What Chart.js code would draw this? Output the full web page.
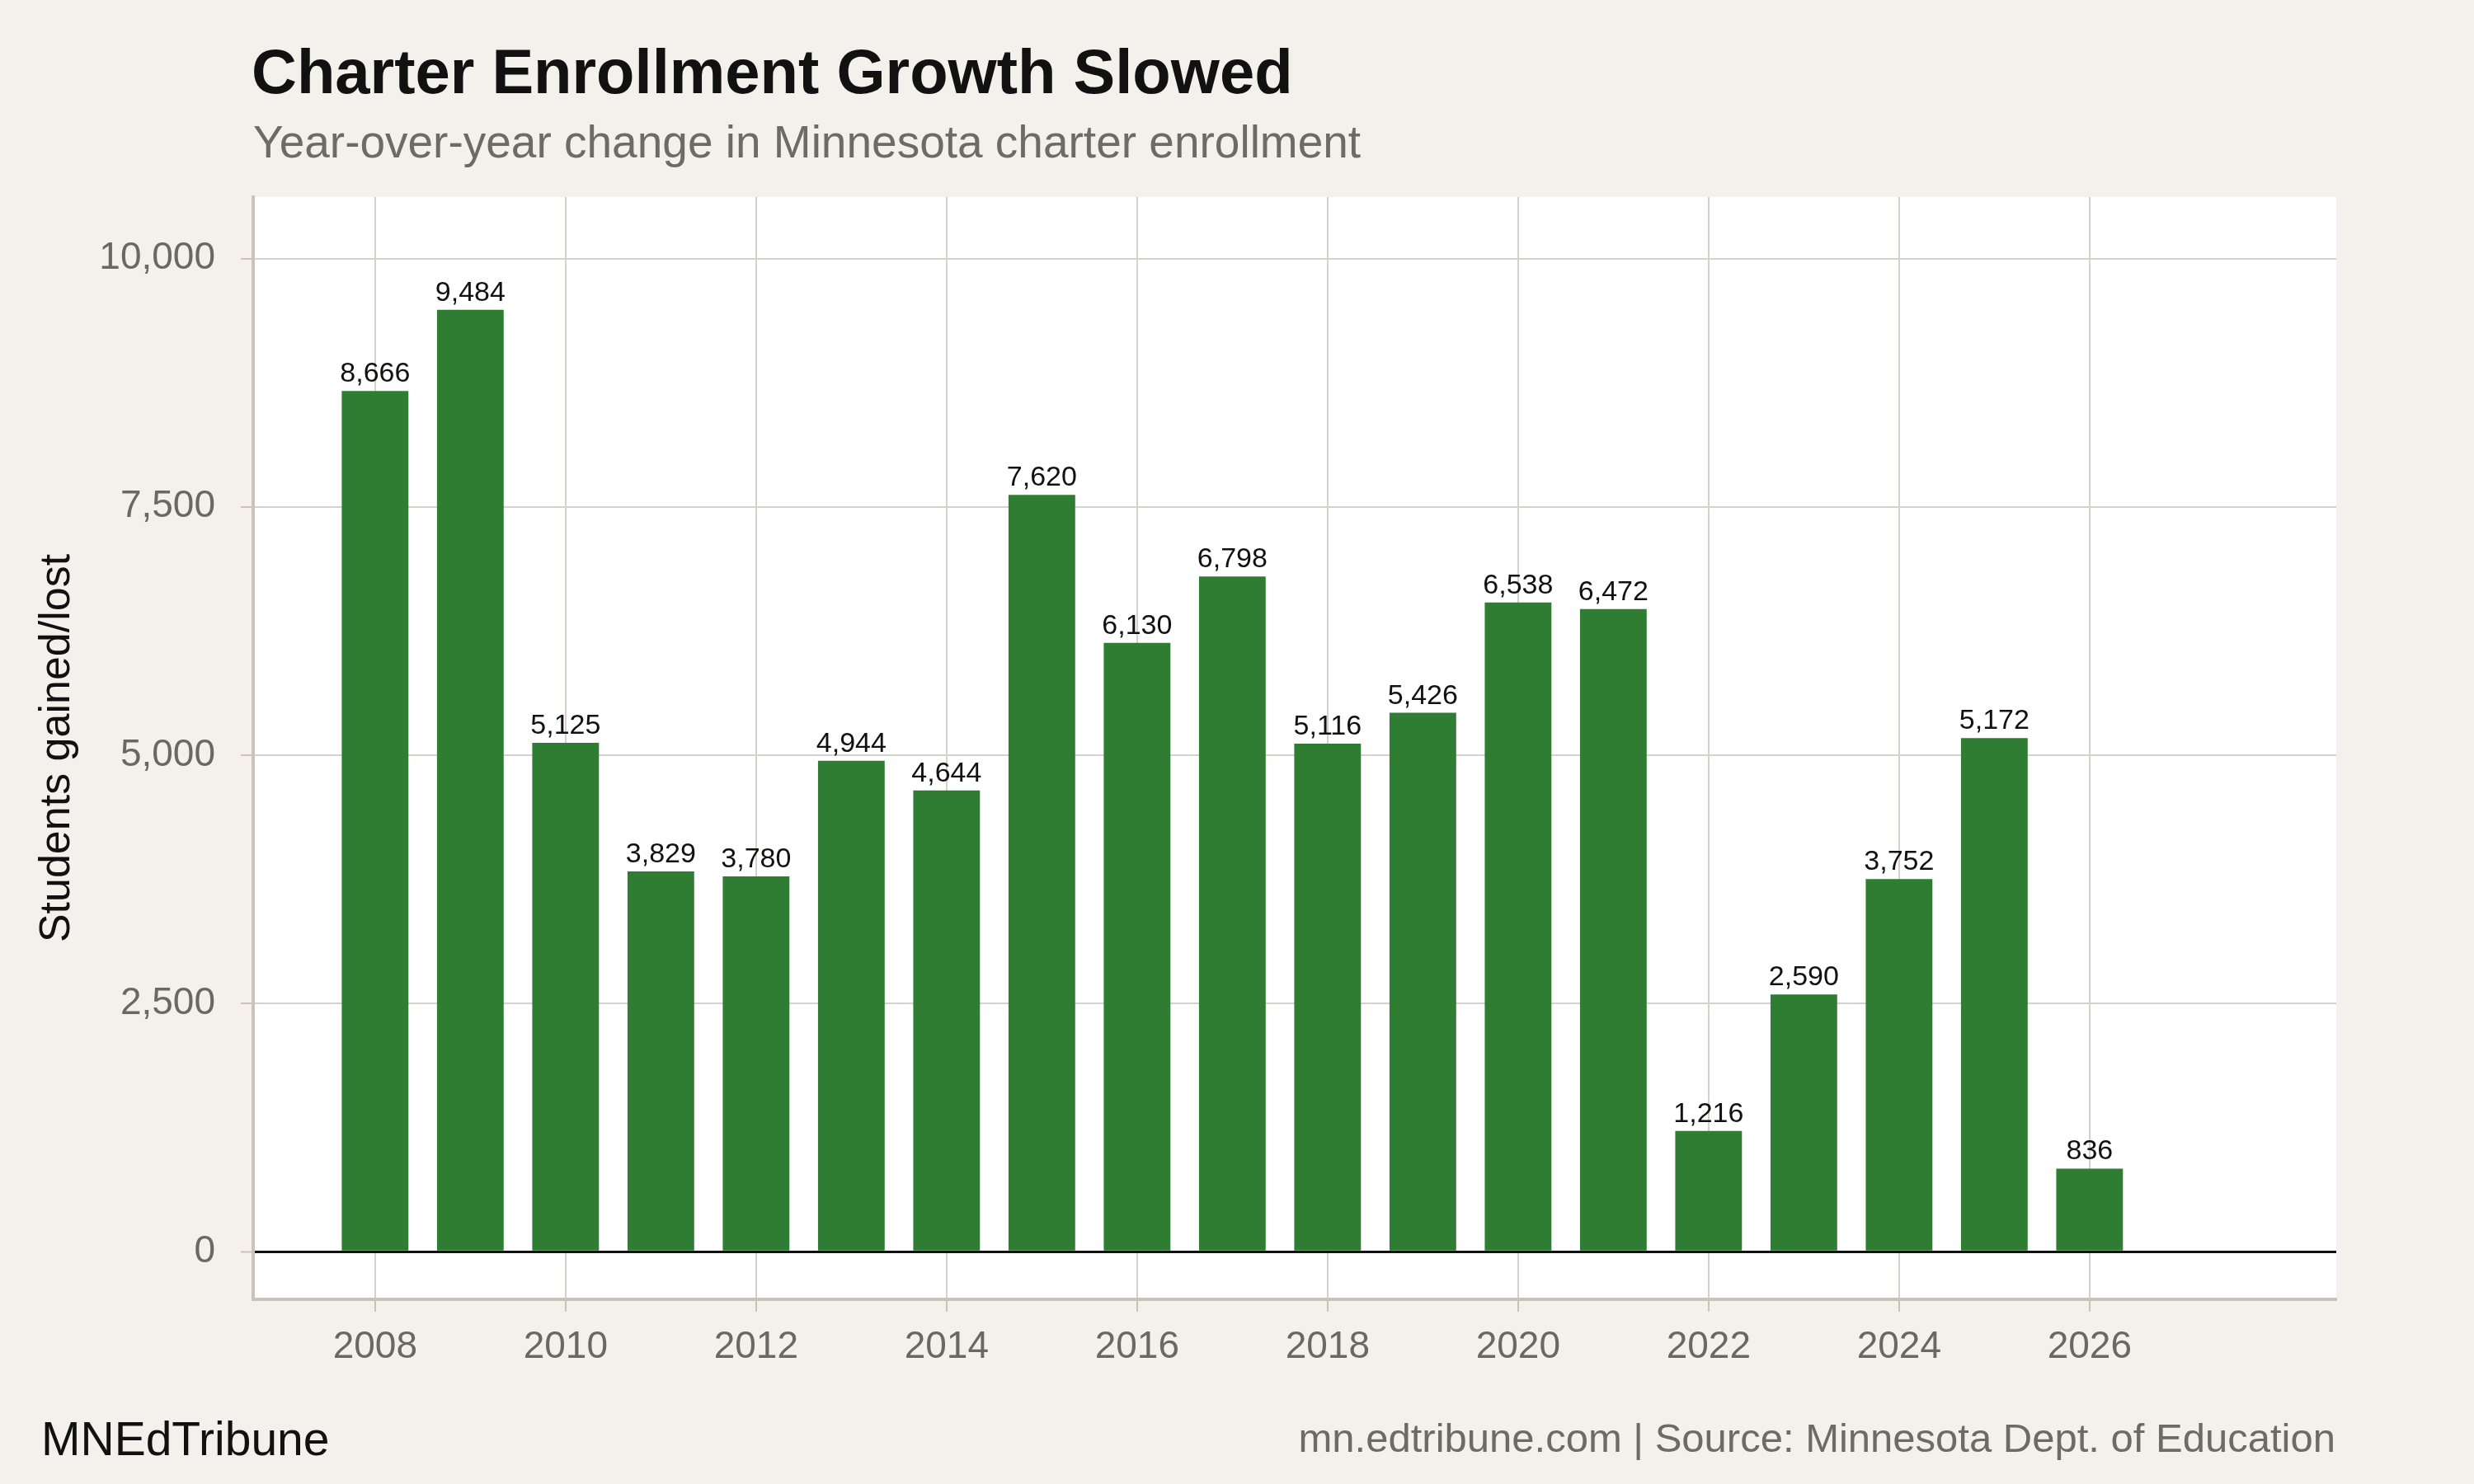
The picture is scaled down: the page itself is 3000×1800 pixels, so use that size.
<!DOCTYPE html>
<html>
<head>
<meta charset="utf-8">
<script src="https://cdn.jsdelivr.net/npm/chart.js@4.4.1/dist/chart.umd.min.js"></script>
<style>
  html, body { margin: 0; padding: 0; background: #f4f1ec; }
  #wrap { position: relative; width: 3000px; height: 1800px; overflow: hidden;
          font-family: "Liberation Sans", Arial, Helvetica, sans-serif; }
  #chart { position: absolute; left: 0; top: 0; }
  .txt { position: absolute; white-space: nowrap; line-height: 1; }
  #title { left: 305px; top: 49px; font-size: 76px; font-weight: bold; color: #111; }
  #subtitle { left: 307px; top: 145px; font-size: 55px; color: #6e6a64; }
  #brand { left: 50px; top: 1717px; font-size: 57px; color: #111; }
  #source { right: 168px; top: 1720px; font-size: 49px; color: #6e6a64; }
</style>
</head>
<body>
<div id="wrap">
  <canvas id="chart" width="3000" height="1800"></canvas>
  <div class="txt" id="title">Charter Enrollment Growth Slowed</div>
  <div class="txt" id="subtitle">Year-over-year change in Minnesota charter enrollment</div>
  <div class="txt" id="brand">MNEdTribune</div>
  <div class="txt" id="source">mn.edtribune.com | Source: Minnesota Dept. of Education</div>
</div>
<script>
// Data
const years = [2008, 2009, 2010, 2011, 2012, 2013, 2014, 2015, 2016, 2017,
               2018, 2019, 2020, 2021, 2022, 2023, 2024, 2025, 2026];
const change = [8666, 9484, 5125, 3829, 3780, 4944, 4644, 7620, 6130, 6798,
                5116, 5426, 6538, 6472, 1216, 2590, 3752, 5172, 836];

// Axis ticks and ranges
const xTicks = [2008, 2010, 2012, 2014, 2016, 2018, 2020, 2022, 2024, 2026];
const yTicks = [0, 2500, 5000, 7500, 10000];
const xRange = [2006.72, 2028.59];
const yRange = [-480, 10620];

const FONT = '"Liberation Sans", Arial, Helvetica, sans-serif';
const GRID = '#d6d1c9';
const AXIS = '#c9c3ba';
const TICK_TEXT = '#6b6863';
const BAR = '#2e7d32';

Chart.defaults.font.family = FONT;

const fmt = v => Number(v).toLocaleString('en-US');

// white plot panel behind the grid
const panelBg = {
    id: 'panelBg',
    beforeDraw(chart) {
        const { ctx, chartArea: a } = chart;
        ctx.save();
        ctx.fillStyle = '#ffffff';
        ctx.fillRect(a.left, a.top, a.right - a.left, a.bottom - a.top);
        ctx.restore();
    }
};

// value labels above each bar
const barLabels = {
    id: 'barLabels',
    afterDatasetsDraw(chart) {
        const ctx = chart.ctx;
        const meta = chart.getDatasetMeta(0);
        ctx.save();
        ctx.font = '34px ' + FONT;
        ctx.fillStyle = '#111';
        ctx.textAlign = 'center';
        ctx.textBaseline = 'alphabetic';
        meta.data.forEach((bar, i) => {
            ctx.fillText(fmt(change[i]), bar.x, bar.y - 11);
        });
        ctx.restore();
    }
};

new Chart(document.getElementById('chart'), {
    type: 'bar',
    data: {
        labels: years,
        datasets: [{
            data: change,
            backgroundColor: BAR,
            borderWidth: 0,
            categoryPercentage: 1,
            barPercentage: 0.7
        }]
    },
    options: {
        responsive: false,
        devicePixelRatio: 1,
        animation: false,
        layout: { padding: { left: 0, top: 239, right: 167, bottom: 0 } },
        plugins: {
            legend: { display: false },
            tooltip: { enabled: false }
        },
        scales: {
            x: {
                type: 'linear',
                min: xRange[0],
                max: xRange[1],
                offset: false,
                afterFit: s => { s.height = 224; },
                afterBuildTicks: s => { s.ticks = xTicks.map(v => ({ value: v })); },
                grid: { offset: false, color: GRID, lineWidth: 2, tickLength: 15, tickColor: AXIS, tickWidth: 2 },
                border: { display: true, color: AXIS, width: 4 },
                ticks: {
                    maxRotation: 0,
                    autoSkip: false,
                    padding: 16,
                    color: TICK_TEXT,
                    font: { size: 46 },
                    callback: v => String(v)
                }
            },
            y: {
                min: yRange[0],
                max: yRange[1],
                afterFit: s => { s.width = 307; },
                afterBuildTicks: s => { s.ticks = yTicks.map(v => ({ value: v })); },
                grid: {
                    color: c => (c.tick && c.tick.value === 0 ? '#111111' : GRID),
                    lineWidth: c => (c.tick && c.tick.value === 0 ? 3 : 2),
                    tickLength: 15,
                    tickColor: AXIS,
                    tickWidth: 2
                },
                border: { display: true, color: AXIS, width: 4 },
                ticks: {
                    autoSkip: false,
                    padding: 31,
                    color: TICK_TEXT,
                    font: { size: 46 },
                    callback: v => fmt(v)
                },
                title: {
                    display: true,
                    text: 'Students gained/lost',
                    color: '#111',
                    font: { size: 52 },
                    padding: { top: 38, bottom: 0 }
                }
            }
        }
    },
    plugins: [panelBg, barLabels]
});
</script>
</body>
</html>
